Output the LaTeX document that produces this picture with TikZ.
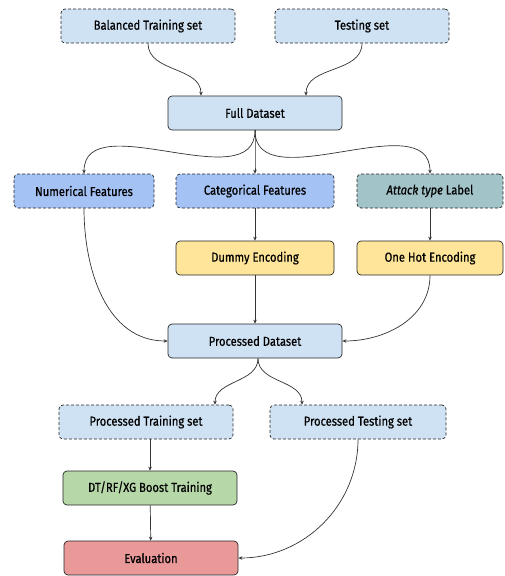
\documentclass[tikz,border=0pt]{standalone}
\usepackage{fontspec}
\setmainfont{Fira Sans}[FakeStretch=0.86, FakeBold=0.6]
\usetikzlibrary{arrows.meta}
\definecolor{setblue}{HTML}{CFE2F3}
\definecolor{featblue}{HTML}{A4C2F4}
\definecolor{labelteal}{HTML}{A2C4C9}
\definecolor{encyellow}{HTML}{FFE599}
\definecolor{traingreen}{HTML}{B6D7A8}
\definecolor{evalred}{HTML}{EA9999}
\begin{document}
\begin{tikzpicture}[x=1pt, y=1pt, line width=0.7pt,
  box/.style={draw=black!85, rounded corners=4pt, minimum height=34pt, inner sep=0pt,
    font=\fontsize{13}{15}\selectfont},
  dbox/.style={box, dash pattern=on 3pt off 2pt},
  arr/.style={draw=black!80, -{Stealth[length=4pt, width=3.5pt]}}]
  \useasboundingbox (0,0) rectangle (504,-576);
  % data sets
  \node[dbox, fill=setblue, minimum width=174pt] (bal) at (148,-26) {Balanced Training set};
  \node[dbox, fill=setblue, minimum width=174pt] (test) at (362,-26) {Testing set};
  \node[box, fill=setblue, minimum width=174pt] (full) at (255,-113) {Full Dataset};
  % features and label
  \node[dbox, fill=featblue, minimum width=140pt] (num) at (84,-191) {Numerical Features};
  \node[dbox, fill=featblue, minimum width=158pt] (cat) at (255,-191) {Categorical Features};
  \node[dbox, fill=labelteal, minimum width=146pt] (lab) at (430,-191) {\textit{Attack type} Label};
  % encodings
  \node[box, fill=encyellow, minimum width=158pt] (dummy) at (255,-258) {Dummy Encoding};
  \node[box, fill=encyellow, minimum width=146pt] (hot) at (430,-258) {One Hot Encoding};
  \node[box, fill=setblue, minimum width=174pt] (proc) at (255,-341) {Processed Dataset};
  % split, training, evaluation
  \node[dbox, fill=setblue, minimum width=174pt] (ptrain) at (146,-422) {Processed Training set};
  \node[dbox, fill=setblue, minimum width=176pt] (ptest) at (358,-422) {Processed Testing set};
  \node[box, fill=traingreen, minimum width=174pt] (model) at (150,-488) {DT/RF/XG Boost Training};
  \node[box, fill=evalred, minimum width=174pt] (eval) at (151,-558) {Evaluation};
  % connectors
  \draw[arr] (bal.south) to[out=-90, in=90] ([xshift=-54pt]full.north);
  \draw[arr] (test.south) to[out=-90, in=90] ([xshift=51pt]full.north);
  \foreach \t in {num, cat, lab}{
    \draw[arr] (full.south) to[out=-90, in=90] (\t.north);
  }
  \draw[arr] (cat) -- (dummy);
  \draw[arr] (lab) -- (hot);
  \draw[arr] (num.south) to[out=-90, in=180] (proc.west);
  \draw[arr] (dummy) -- (proc);
  \draw[arr] (hot.south) to[out=-90, in=0] (proc.east);
  \draw[arr] ([xshift=3pt]proc.south) to[out=-90, in=90] ([xshift=69pt]ptrain.north);
  \draw[arr] ([xshift=3pt]proc.south) to[out=-90, in=90] ([xshift=-56pt]ptest.north);
  \draw[arr] (ptrain.south -| model.north) -- (model.north);
  \draw[arr] (model) -- (eval);
  \draw[arr] (ptest.south) to[out=-90, in=0] (eval.east);
\end{tikzpicture}
\end{document}
